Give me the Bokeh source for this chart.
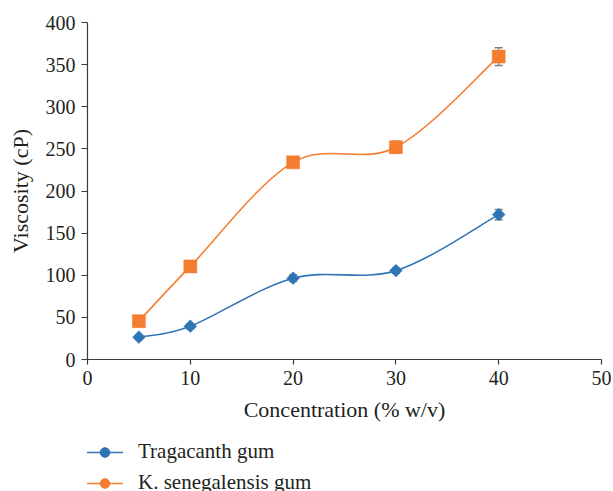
import numpy as np
from bokeh.plotting import figure
from bokeh.layouts import column
from bokeh.models import (ColumnDataSource, Whisker, TeeHead, Legend, LegendItem,
                          FixedTicker, Range1d)
from bokeh.embed import file_html
from bokeh.resources import INLINE

# ---- data ----
concentration = [5, 10, 20, 30, 40]
tragacanth = [26.5, 39.5, 96.5, 105.5, 172]
tragacanth_err = [2, 3, 4, 3, 6]
senegalensis = [45.5, 110.5, 234, 252, 359.5]
senegalensis_err = [3, 5, 6, 7, 10.5]
x_ticks = [0, 10, 20, 30, 40, 50]
y_ticks = [0, 50, 100, 150, 200, 250, 300, 350, 400]
series_names = ["Tragacanth gum", "K. senegalensis gum"]

BLUE = "#2e75b6"
ORANGE = "#f47d30"
FONT = "Liberation Serif"
TXT = "#231f20"
AXC = "#3a3a3a"
ERRC = "#808080"


def smooth(xs, ys):
    """Bezier segments for a smoothed (Catmull-Rom style) line through the points."""
    x = np.asarray(xs, float)
    y = np.asarray(ys, float)
    n = len(x)
    d = dict(x0=[], y0=[], x1=[], y1=[], cx0=[], cy0=[], cx1=[], cy1=[])
    for i in range(n - 1):
        ip = max(i - 1, 0)
        inx = min(i + 2, n - 1)
        d["x0"].append(x[i]); d["y0"].append(y[i])
        d["x1"].append(x[i + 1]); d["y1"].append(y[i + 1])
        d["cx0"].append(x[i] + (x[i + 1] - x[ip]) / 6)
        d["cy0"].append(y[i] + (y[i + 1] - y[ip]) / 6)
        d["cx1"].append(x[i + 1] - (x[inx] - x[i]) / 6)
        d["cy1"].append(y[i + 1] - (y[inx] - y[i]) / 6)
    return ColumnDataSource(d)


p = figure(width=613, height=425, x_range=Range1d(0, 50), y_range=Range1d(0, 400),
           output_backend="svg", toolbar_location=None,
           min_border_left=87, min_border_right=12, min_border_top=22, min_border_bottom=66)
p.outline_line_color = None
p.xgrid.visible = False
p.ygrid.visible = False
p.background_fill_color = "white"
p.border_fill_color = "white"

for ax in (p.xaxis[0], p.yaxis[0]):
    ax.axis_line_color = AXC
    ax.axis_line_width = 1.2
    ax.major_tick_line_color = AXC
    ax.major_tick_line_width = 1.2
    ax.minor_tick_line_color = None
    ax.major_tick_in = 0
    ax.major_label_text_font = FONT
    ax.major_label_text_font_size = "20px"
    ax.major_label_text_color = TXT
    ax.axis_label_text_font = FONT
    ax.axis_label_text_font_size = "22px"
    ax.axis_label_text_font_style = "normal"
    ax.axis_label_text_color = TXT

p.xaxis.ticker = FixedTicker(ticks=x_ticks)
p.yaxis.ticker = FixedTicker(ticks=y_ticks)
p.xaxis.major_tick_out = 5
p.yaxis.major_tick_out = 6
p.xaxis.major_label_standoff = 6
p.yaxis.major_label_standoff = 6
p.xaxis.axis_label = "Concentration (% w/v)"
p.yaxis.axis_label = "Viscosity (cP)"
p.xaxis.axis_label_standoff = 9
p.yaxis.axis_label_standoff = 10

# error bars (under the markers)
for vals, errs in ((tragacanth, tragacanth_err), (senegalensis, senegalensis_err)):
    src = ColumnDataSource(dict(x=concentration,
                                upper=[v + e for v, e in zip(vals, errs)],
                                lower=[v - e for v, e in zip(vals, errs)]))
    w = Whisker(base="x", upper="upper", lower="lower", source=src, dimension="height",
                line_color=ERRC, line_width=1.2, level="underlay",
                upper_head=TeeHead(size=8, line_color=ERRC, line_width=1.5),
                lower_head=TeeHead(size=8, line_color=ERRC, line_width=1.5))
    p.add_layout(w)

# smoothed lines
p.bezier(x0="x0", y0="y0", x1="x1", y1="y1", cx0="cx0", cy0="cy0", cx1="cx1", cy1="cy1",
         source=smooth(concentration, tragacanth), line_color=BLUE, line_width=1.6)
p.bezier(x0="x0", y0="y0", x1="x1", y1="y1", cx0="cx0", cy0="cy0", cx1="cx1", cy1="cy1",
         source=smooth(concentration, senegalensis), line_color=ORANGE, line_width=1.6)

# markers
p.scatter(concentration, tragacanth, marker="square", angle=np.pi / 4, size=9,
          fill_color=BLUE, line_color=BLUE, line_width=0.5)
p.scatter(concentration, senegalensis, marker="square", size=13,
          fill_color=ORANGE, line_color=ORANGE, line_width=0.5)

# ---- legend strip below the chart ----
q = figure(width=613, height=66, x_range=Range1d(0, 1), y_range=Range1d(0, 1),
           output_backend="svg", toolbar_location=None,
           min_border_left=0, min_border_right=0, min_border_top=0, min_border_bottom=0)
q.axis.visible = False
q.grid.visible = False
q.outline_line_color = None
q.background_fill_color = "white"
q.border_fill_color = "white"

nan_src = ColumnDataSource(dict(x=[np.nan], y=[np.nan]))
l1 = q.line("x", "y", source=nan_src, line_color=BLUE, line_width=1.6)
m1 = q.scatter("x", "y", source=nan_src, marker="circle", fill_color=BLUE, line_color=BLUE)
l2 = q.line("x", "y", source=nan_src, line_color=ORANGE, line_width=1.6)
m2 = q.scatter("x", "y", source=nan_src, marker="circle", fill_color=ORANGE, line_color=ORANGE)

legend = Legend(items=[LegendItem(label=series_names[0], renderers=[l1, m1]),
                       LegendItem(label=series_names[1], renderers=[l2, m2])],
                location=(-1, -4), orientation="vertical",
                glyph_width=37, glyph_height=24, label_height=24, spacing=6,
                padding=0, margin=0, border_line_color=None, background_fill_alpha=0,
                label_standoff=15, label_text_font=FONT, label_text_font_size="21px",
                label_text_color=TXT)
q.add_layout(legend)

layout = column(p, q, spacing=0)
open("out.html", "w").write(file_html(layout, INLINE))
